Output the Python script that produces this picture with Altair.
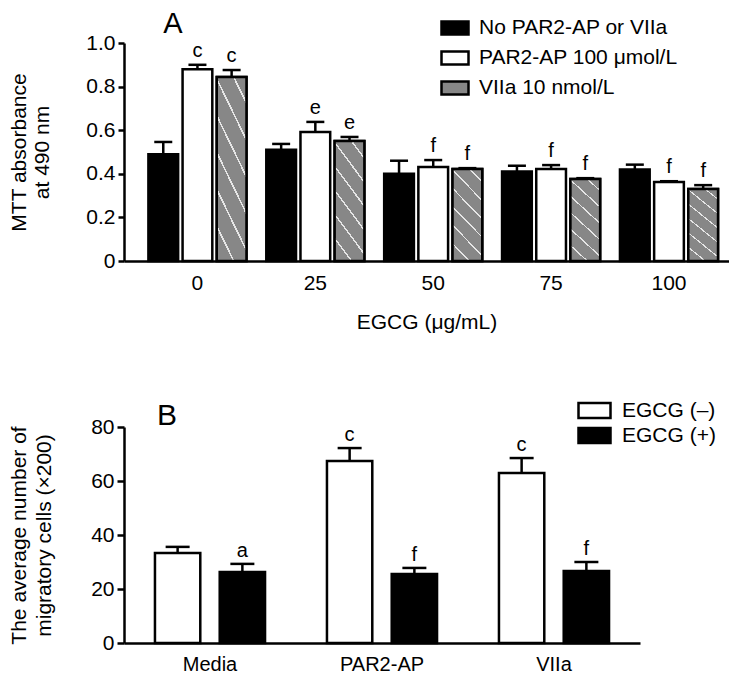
import altair as alt
import pandas as pd

# ---------------- Panel A data ----------------
doses = ["0", "25", "50", "75", "100"]
series_a = ["No PAR2-AP or VIIa", "PAR2-AP 100 μmol/L", "VIIa 10 nmol/L"]
mean_none = [0.49, 0.51, 0.40, 0.41, 0.42]
sem_none = [0.056, 0.027, 0.060, 0.027, 0.022]
mean_par2 = [0.88, 0.592, 0.431, 0.422, 0.362]
sem_par2 = [0.020, 0.046, 0.032, 0.018, 0.004]
mean_viia = [0.844, 0.55, 0.422, 0.376, 0.33]
sem_viia = [0.032, 0.019, 0.004, 0.004, 0.018]
sig_none = ["", "", "", "", ""]
sig_par2 = ["c", "e", "f", "f", "f"]
sig_viia = ["c", "e", "f", "f", "f"]

# ---------------- Panel B data ----------------
groups_b = ["Media", "PAR2-AP", "VIIa"]
series_b = ["EGCG (–)", "EGCG (+)"]
mean_minus = [33.3, 67.4, 63.0]
sem_minus = [2.3, 4.8, 5.5]
mean_plus = [26.3, 25.6, 26.7]
sem_plus = [3.0, 2.2, 3.3]
sig_minus = ["", "c", "c"]
sig_plus = ["a", "f", "f"]

FONT = "Liberation Sans"

rows_a = []
for s, means, sems, sigs in zip(series_a, [mean_none, mean_par2, mean_viia],
                                [sem_none, sem_par2, sem_viia],
                                [sig_none, sig_par2, sig_viia]):
    for d, m, e, g in zip(doses, means, sems, sigs):
        rows_a.append({"dose": d, "series": s, "mean": m, "top": m + e, "sig": g})
df_a = pd.DataFrame(rows_a)

rows_b = []
for s, means, sems, sigs in zip(series_b, [mean_minus, mean_plus],
                                [sem_minus, sem_plus], [sig_minus, sig_plus]):
    for g, m, e, t in zip(groups_b, means, sems, sigs):
        rows_b.append({"group": g, "series": s, "mean": m, "top": m + e, "sig": t})
df_b = pd.DataFrame(rows_b)

# hatch-like fill (grey with thin light diagonal stripes)
stops = []
step = 0.06
k = 0
while k * step < 1.0:
    t0 = k * step
    stops += [
        alt.GradientStop(offset=round(t0, 4), color="#878787"),
        alt.GradientStop(offset=round(t0 + step * 0.9, 4), color="#878787"),
        alt.GradientStop(offset=round(t0 + step * 0.9, 4), color="#e6e6e6"),
        alt.GradientStop(offset=round(min(t0 + step, 1.0), 4), color="#e6e6e6"),
    ]
    k += 1
hatch_fill = alt.Gradient(gradient="linear", x1=0, y1=1, x2=1, y2=-2, stops=stops)

# ---------------- Panel A chart ----------------
axis_y_a = alt.Axis(
    values=[0, 0.2, 0.4, 0.6, 0.8, 1.0],
    labelExpr="datum.value == 0 ? '0' : format(datum.value, '.1f')",
    title=["MTT absorbance", "at 490 nm"], titlePadding=33, titleLineHeight=23,
    titleFontSize=21, titleFontWeight="normal", labelFontSize=21,
    grid=False, tickSize=6, tickWidth=2.5, domainWidth=2.5, labelPadding=3,
)
scale_y_a = alt.Scale(domain=[0, 1], nice=False)

base_a = alt.Chart(df_a).encode(
    x=alt.X("dose:N", sort=doses,
            scale=alt.Scale(paddingInner=0.168, paddingOuter=0.15, align=0.69),
            axis=alt.Axis(title="EGCG (μg/mL)", labelAngle=0, ticks=False, tickSize=0,
                          labelPadding=11, titlePadding=18, domainWidth=2.5,
                          labelFontSize=21, titleFontSize=21, titleFontWeight="normal")),
    xOffset=alt.XOffset("series:N", sort=series_a,
                        scale=alt.Scale(paddingInner=0.13, paddingOuter=0)),
)

bars_a = base_a.mark_bar(stroke="black", strokeWidth=2.5).encode(
    y=alt.Y("mean:Q", scale=scale_y_a, axis=axis_y_a),
    fill=alt.Fill("series:N", sort=series_a,
                  scale=alt.Scale(domain=series_a, range=["black", "white", "#878787"]),
                  legend=alt.Legend(title=None, orient="none", legendX=311, legendY=-35,
                                    symbolType="M-1,-0.48H1V0.48H-1Z", symbolSize=729,
                                    symbolStrokeColor="black", symbolStrokeWidth=2.5,
                                    labelFontSize=21, labelOffset=9, rowPadding=3,
                                    labelLimit=0, padding=5, labelColor="black")),
)
hatch_a = base_a.transform_filter(alt.datum.series == series_a[2]).mark_bar(
    stroke="black", strokeWidth=2.5, fill=hatch_fill
).encode(y=alt.Y("mean:Q", scale=scale_y_a, axis=axis_y_a))
err_a = base_a.mark_rule(color="black", strokeWidth=2.5).encode(
    y=alt.Y("mean:Q", scale=scale_y_a, axis=axis_y_a), y2="top:Q")
cap_a = base_a.mark_tick(color="black", thickness=2.5, size=18, opacity=1).encode(
    y=alt.Y("top:Q", scale=scale_y_a, axis=axis_y_a))
sig_a = base_a.mark_text(fontSize=20, dy=-14, color="black").encode(
    y=alt.Y("top:Q", scale=scale_y_a, axis=axis_y_a), text="sig:N")
label_a = alt.Chart(pd.DataFrame({"t": ["A"]})).mark_text(
    fontSize=29, align="center", baseline="middle", color="black"
).encode(x=alt.value(49), y=alt.value(-19), text="t:N")

chart_a = alt.layer(bars_a, hatch_a, err_a, cap_a, sig_a, label_a).properties(
    width=605, height=218)

# ---------------- Panel B chart ----------------
axis_y_b = alt.Axis(
    values=[0, 20, 40, 60, 80],
    title=["The average number of", "migratory cells (×200)"], titlePadding=36,
    titleLineHeight=25, titleFontSize=21, titleFontWeight="normal", labelFontSize=21,
    grid=False, tickSize=7, tickWidth=2.5, domainWidth=2.5, labelPadding=3,
)
scale_y_b = alt.Scale(domain=[0, 80], nice=False)

base_b = alt.Chart(df_b).encode(
    x=alt.X("group:N", sort=groups_b,
            scale=alt.Scale(paddingInner=0.36, paddingOuter=0.18),
            axis=alt.Axis(title=None, labelAngle=0, ticks=False, tickSize=0,
                          labelPadding=11, domainWidth=2.5, labelFontSize=20)),
    xOffset=alt.XOffset("series:N", sort=series_b,
                        scale=alt.Scale(paddingInner=0.3, paddingOuter=0)),
)
bars_b = base_b.mark_bar(stroke="black", strokeWidth=2.5).encode(
    y=alt.Y("mean:Q", scale=scale_y_b, axis=axis_y_b),
    fill=alt.Fill("series:N", sort=series_b,
                  scale=alt.Scale(domain=series_b, range=["white", "black"]),
                  legend=alt.Legend(title=None, orient="none", legendX=459, legendY=-28,
                                    symbolType="M-1.6,-0.75H1.6V0.75H-1.6Z", symbolSize=400,
                                    symbolStrokeColor="black", symbolStrokeWidth=2.5,
                                    labelFontSize=21, labelOffset=16, rowPadding=0,
                                    labelLimit=0, padding=0, labelColor="black")),
)
err_b = base_b.mark_rule(color="black", strokeWidth=2.5).encode(
    y=alt.Y("mean:Q", scale=scale_y_b, axis=axis_y_b), y2="top:Q")
cap_b = base_b.mark_tick(color="black", thickness=2.5, size=24, opacity=1).encode(
    y=alt.Y("top:Q", scale=scale_y_b, axis=axis_y_b))
sig_b = base_b.mark_text(fontSize=20, dy=-13, color="black").encode(
    y=alt.Y("top:Q", scale=scale_y_b, axis=axis_y_b), text="sig:N")
label_b = alt.Chart(pd.DataFrame({"t": ["B"]})).mark_text(
    fontSize=30, align="center", baseline="middle", color="black"
).encode(x=alt.value(43), y=alt.value(-11), text="t:N")

chart_b = alt.layer(bars_b, err_b, cap_b, sig_b, label_b).properties(
    width=516, height=216)

chart = alt.vconcat(chart_a, chart_b, spacing=67).resolve_scale(
    fill="independent", x="independent", y="independent", xOffset="independent"
).properties(padding=0).configure_view(stroke=None).configure_axis(
    labelFont=FONT, titleFont=FONT, labelColor="black", titleColor="black",
    domainColor="black", tickColor="black",
).configure_legend(labelFont=FONT).configure_text(font=FONT)

chart.save("out.html", embed_options={"renderer": "svg", "actions": False})
